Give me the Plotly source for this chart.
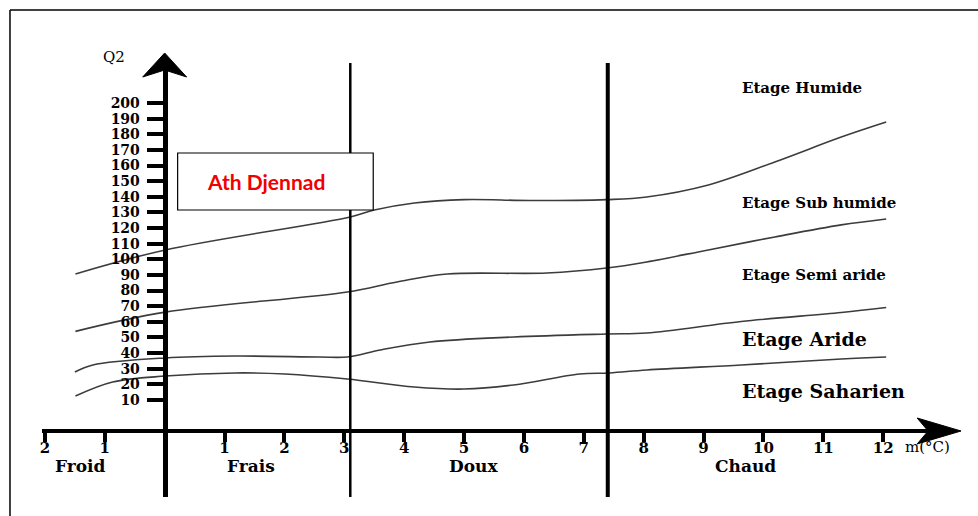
import plotly.graph_objects as go

W, H = 978, 516

# ---------------- data ----------------
m_ticks = [-2, -1, 1, 2, 3, 4, 5, 6, 7, 8, 9, 10, 11, 12]
m_tick_text = ["2", "1", "1", "2", "3", "4", "5", "6", "7", "8", "9", "10", "11", "12"]
q2_ticks = [10, 20, 30, 40, 50, 60, 70, 80, 90, 100, 110, 120, 130, 140, 150, 160, 170, 180, 190, 200]

# Limit Humide / Sub humide
hum_m = [-1.49, 0.01, 3.10, 3.50, 4.17, 5.00, 6.10, 7.38, 8.05, 9.08, 10.19, 11.30, 12.05]
hum_q = [90.6, 106.0, 127.1, 131.5, 136.0, 138.2, 137.6, 138.2, 139.9, 147.6, 162.3, 178.2, 187.8]
# Limit Sub humide / Semi aride
sub_m = [-1.49, 0.01, 3.05, 3.88, 4.72, 6.38, 7.38, 8.05, 9.08, 10.19, 11.30, 12.05]
sub_q = [53.9, 66.2, 79.1, 85.5, 90.6, 91.2, 94.4, 98.3, 106.0, 114.3, 122.0, 125.8]
# Limit Semi aride / Aride
semi_m = [-1.50, -1.20, 0.01, 1.18, 2.58, 3.05, 3.60, 4.43, 5.83, 7.38, 8.05, 9.63, 11.30, 12.05]
semi_q = [27.9, 32.4, 36.9, 38.1, 37.5, 37.5, 42.0, 47.1, 50.3, 52.2, 52.8, 60.2, 66.0, 69.2]
# Limit Aride / Saharien
ari_m = [-1.49, -0.87, 0.01, 1.18, 2.01, 3.05, 4.17, 5.00, 5.83, 6.93, 7.43, 8.05, 9.63, 11.30, 12.05]
ari_q = [12.5, 21.5, 25.3, 27.3, 26.6, 23.4, 18.3, 17.0, 19.6, 26.6, 27.3, 29.2, 32.4, 36.2, 37.5]

zone_names = ["Froid", "Frais", "Doux", "Chaud"]
zone_m = [-1.40, 1.45, 5.15, 9.70]
limit_m = [3.10, 7.40]
etage_names = ["Etage Humide", "Etage Sub humide", "Etage Semi aride", "Etage Aride", "Etage Saharien"]
etage_q2 = [209.5, 136.0, 90.0, 49.0, 15.7]
station = "Ath Djennad"

# ---------------- layout calibration (pixels) ----------------
PX0, PXU = 163.0, 60.0      # pixel of m=0, pixels per degree
PY0, PYU = 415.6, 1.563     # pixel of Q2=0, pixels per Q2 unit


def m_at(px):
    return (px - PX0) / PXU


def q_at(py):
    return (PY0 - py) / PYU


def pp(px, py):
    return f"{px / W:.5f},{1 - py / H:.5f}"


SERIF = "DejaVu Serif"
CURVE = dict(color="#3c3c3c", width=1.6)

fig = go.Figure()
for mm, qq in [(hum_m, hum_q), (sub_m, sub_q), (semi_m, semi_q), (ari_m, ari_q)]:
    fig.add_trace(go.Scatter(x=mm, y=qq, mode="lines", line=dict(shape="spline", smoothing=1.0, **CURVE),
                             showlegend=False, hoverinfo="skip"))

shapes = []
# frame (top and left edges)
shapes.append(dict(type="line", xref="paper", yref="paper", x0=8 / W, x1=8 / W, y0=0, y1=1 - 10 / H,
                   line=dict(color="black", width=1.5)))
shapes.append(dict(type="line", xref="paper", yref="paper", x0=8 / W, x1=1, y0=1 - 10 / H, y1=1 - 10 / H,
                   line=dict(color="black", width=1.5)))
# thermal limits
for i, lm in enumerate(limit_m):
    shapes.append(dict(type="line", xref="x", yref="y", x0=lm, x1=lm, y0=q_at(497), y1=q_at(63),
                       line=dict(color="black", width=2.5 if i == 0 else 4), layer="above"))
# station box
shapes.append(dict(type="rect", xref="x", yref="y", x0=m_at(176), x1=m_at(372), y0=q_at(210), y1=q_at(153),
                   fillcolor="white", line=dict(color="black", width=1.2), layer="above"))
# arrow heads
shapes.append(dict(type="path", xref="paper", yref="paper",
                   path=f"M{pp(PX0, 53)} L{pp(PX0 + 22, 77)} L{pp(PX0, 70)} L{pp(PX0 - 22, 77)} Z",
                   fillcolor="black", line=dict(color="black", width=1)))
shapes.append(dict(type="path", xref="paper", yref="paper",
                   path=f"M{pp(961, 431)} L{pp(917, 418)} L{pp(928, 431)} L{pp(917, 444)} Z",
                   fillcolor="black", line=dict(color="black", width=1)))

ann = []
ann.append(dict(x=m_at(265), y=q_at(181), xref="x", yref="y", text=station, showarrow=False,
                font=dict(family="Lato", size=21, color="#f00000", weight="bold")))
for name, zm in zip(zone_names, zone_m):
    ann.append(dict(x=zm, y=q_at(466), xref="x", yref="y", text=name, showarrow=False,
                    font=dict(family=SERIF, size=17, color="black", weight="bold")))
for k, (name, eq) in enumerate(zip(etage_names, etage_q2)):
    ann.append(dict(x=m_at(740), y=eq, xref="x", yref="y", text=name, showarrow=False, xanchor="left",
                    font=dict(family=SERIF, size=15 if k < 3 else 19, color="black", weight="bold")))
ann.append(dict(x=m_at(903), y=q_at(447), xref="x", yref="y", text="m(°C)", showarrow=False, xanchor="left",
                font=dict(family=SERIF, size=15, color="black")))
ann.append(dict(x=m_at(112), y=q_at(57), xref="x", yref="y", text="Q2", showarrow=False,
                font=dict(family=SERIF, size=15, color="black")))

fig.update_layout(
    width=W, height=H, margin=dict(l=0, r=0, t=0, b=0),
    paper_bgcolor="white", plot_bgcolor="white",
    shapes=shapes, annotations=ann, showlegend=False,
    xaxis=dict(domain=[40 / W, 945 / W], range=[m_at(40), m_at(945)], anchor="free", position=1 - 431 / H,
               showline=True, linewidth=4, linecolor="black", showgrid=False, zeroline=False,
               ticks="outside", ticklen=9, tickwidth=4, tickcolor="black",
               tickvals=m_ticks, ticktext=m_tick_text, ticklabelstandoff=-7,
               tickfont=dict(family=SERIF, size=15, color="black", weight="bold")),
    yaxis=dict(domain=[1 - 497 / H, 1 - 57 / H], range=[q_at(497), q_at(57)], anchor="free", position=PX0 / W,
               showline=True, linewidth=5, linecolor="black", showgrid=False, zeroline=False,
               ticks="outside", ticklen=16, tickwidth=4, tickcolor="black",
               tickvals=q2_ticks, ticklabelstandoff=4,
               tickfont=dict(family=SERIF, size=14, color="black", weight="bold")),
)

fig.write_html("out.html", config={"displayModeBar": False})

# remove the browser's default page margin so the chart sits at the window's top-left corner
with open("out.html", encoding="utf-8") as f:
    html = f.read()
html = html.replace("<head>", "<head><style>html,body{margin:0;padding:0;overflow:hidden;}</style>", 1)
with open("out.html", "w", encoding="utf-8") as f:
    f.write(html)
